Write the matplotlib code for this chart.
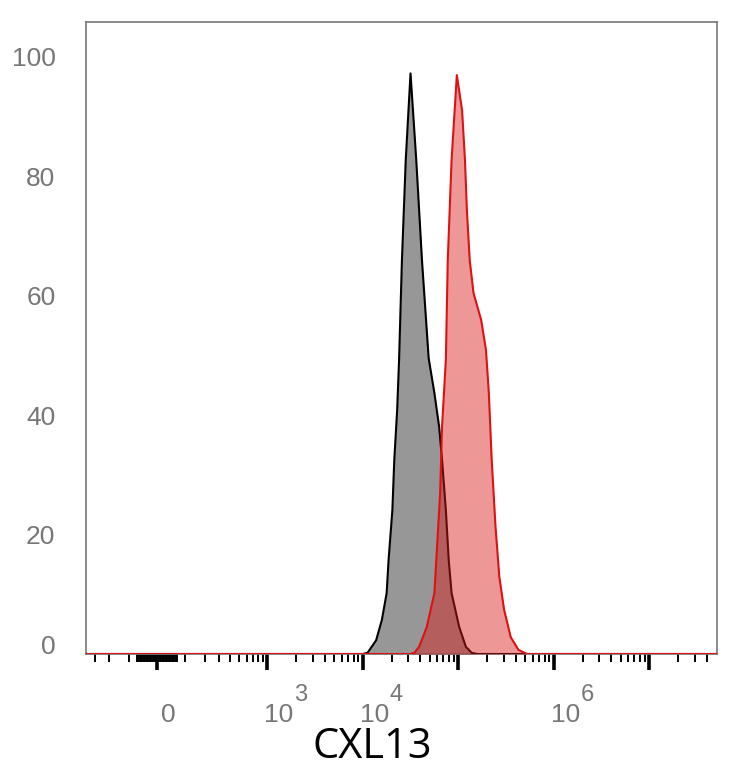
import numpy as np
import matplotlib
matplotlib.use("Agg")
import matplotlib.pyplot as plt
from matplotlib import transforms

# ---------------- data ----------------
# log10(fluorescence intensity) and % of max for each histogram
gray_log10 = [4.00, 4.05, 4.14, 4.20, 4.25, 4.27, 4.31, 4.33, 4.36, 4.38, 4.41,
              4.45, 4.50, 4.56, 4.62, 4.69, 4.75, 4.80, 4.83, 4.87, 4.90, 4.93,
              5.01, 5.08, 5.14, 5.20]
gray_pct = [0.0, 0.2, 2.3, 5.7, 10.2, 15.7, 24.1, 32.5, 40.8, 49.2, 65.9,
            82.7, 97.2, 82.7, 65.9, 49.5, 43.7, 38.0, 32.5, 24.1, 15.7, 10.2,
            4.5, 1.2, 0.2, 0.0]

red_log10 = [4.50, 4.54, 4.59, 4.67, 4.75, 4.77, 4.81, 4.83, 4.87, 4.89, 4.93,
             4.985, 5.04, 5.07, 5.09, 5.12, 5.16, 5.24, 5.29, 5.32, 5.35, 5.39,
             5.43, 5.48, 5.55, 5.63, 5.72]
red_pct = [0.0, 0.2, 1.2, 4.5, 10.2, 15.7, 26.9, 38.0, 49.2, 65.9, 82.7,
           96.9, 91.0, 82.7, 74.3, 65.9, 60.4, 55.9, 50.9, 43.7, 32.5, 21.3,
           12.9, 7.4, 2.8, 0.7, 0.0]

y_ticks = [0, 20, 40, 60, 80, 100]
x_major_ticks = [0, 1e3, 1e4, 1e5, 1e6, 1e7]
x_tick_labels = {0: ("0", None), 1e3: ("10", "3"), 1e4: ("10", "4"), 1e6: ("10", "6")}
x_label = "CXL13"

# ---------------- scale (biexponential-like arcsinh) ----------------
C = 140.0
LN10 = np.log(10)

def fwd(v):
    return np.arcsinh(np.asarray(v, dtype=float) / C) / LN10

def inv(u):
    return C * np.sinh(np.asarray(u, dtype=float) * LN10)

X_MIN, X_MAX = -375.0, 5.12e7
Y_MIN, Y_MAX = 0.0, 105.8

minor = [-300, -200, -100] + list(range(-70, 0, 5)) + list(range(5, 75, 5))
minor += list(range(100, 1000, 100))
for d in range(3, 7):
    minor += [k * 10 ** d for k in range(2, 10)]
minor += [2e7, 3e7, 4e7]

# ---------------- figure ----------------
fig = plt.figure(figsize=(7.34, 7.68), dpi=100)
W, H = 734, 768
ax = fig.add_axes([86 / W, (H - 654) / H, (717 - 86) / W, (654 - 22) / H])
ax.set_xscale("function", functions=(fwd, inv))
ax.set_xlim(X_MIN, X_MAX)
ax.set_ylim(Y_MIN, Y_MAX)

gx = np.concatenate([[X_MIN], 10 ** np.array(gray_log10), [X_MAX]])
gy = np.concatenate([[0], gray_pct, [0]])
rx = np.concatenate([[X_MIN], 10 ** np.array(red_log10), [X_MAX]])
ry = np.concatenate([[0], red_pct, [0]])

ax.fill_between(gx, 0, gy, color="#979797", lw=0, zorder=2)
ax.plot(gx, gy, color="black", lw=1.5, zorder=3)
ax.fill_between(rx, 0, ry, color=(0.86, 0.1, 0.1, 0.45), lw=0, zorder=4)
ax.plot(rx, ry, color="#dd1111", lw=1.5, zorder=5)

for s in ax.spines.values():
    s.set_color("#777777")
    s.set_linewidth(1.2)

# x ticks
ax.set_xticks(x_major_ticks)
ax.set_xticklabels([])
ax.set_xticks(minor, minor=True)
ax.tick_params(axis="x", which="major", direction="out", length=11.5, width=2.6, color="black")
ax.tick_params(axis="x", which="minor", direction="out", length=5.5, width=1.4, color="black")

# y ticks
ax.set_yticks(y_ticks)
ax.set_yticklabels([str(t) for t in y_ticks], fontsize=19, color="#777777",
                   family=["Liberation Sans", "DejaVu Sans"])
ax.tick_params(axis="y", length=0, pad=22)
lab0 = ax.get_yticklabels()[0]
lab0.set_transform(lab0.get_transform() + transforms.ScaledTranslation(0, 9 / 100, fig.dpi_scale_trans))

# x tick labels (manual, FlowJo style)
bt = transforms.blended_transform_factory(ax.transData, ax.transAxes)
for val, (base, exp) in x_tick_labels.items():
    if exp is None:
        tr = bt + transforms.ScaledTranslation(11 / 100, -68 / 100, fig.dpi_scale_trans)
        ax.text(val, 0, base, transform=tr, ha="center", va="baseline", fontsize=19,
                color="#777777", family=["Liberation Sans", "DejaVu Sans"])
    else:
        tr = bt + transforms.ScaledTranslation(-3 / 100, -68 / 100, fig.dpi_scale_trans)
        ax.text(val, 0, base, transform=tr, ha="left", va="baseline", fontsize=19,
                color="#777777", family=["Liberation Sans", "DejaVu Sans"])
        tr2 = bt + transforms.ScaledTranslation(27 / 100, -47 / 100, fig.dpi_scale_trans)
        ax.text(val, 0, exp, transform=tr2, ha="left", va="baseline", fontsize=17,
                color="#777777", family=["Liberation Sans", "DejaVu Sans"])

fig.text(372 / W, (H - 758) / H, x_label, ha="center", va="baseline", fontsize=30,
         color="black", family=["Open Sans", "DejaVu Sans"])

fig.savefig("out.png", dpi=100)
